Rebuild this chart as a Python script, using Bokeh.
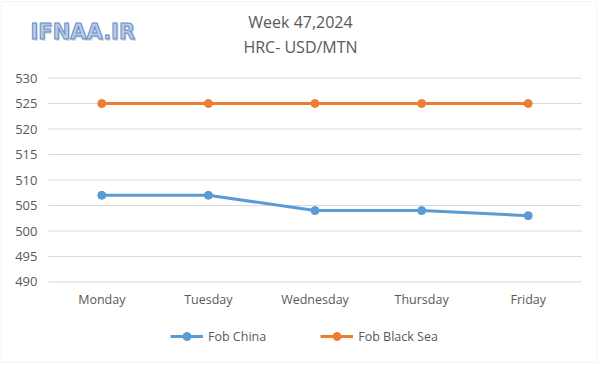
from bokeh.plotting import figure
from bokeh.models import Label, Legend, LegendItem, Range1d, BoxAnnotation
from bokeh.core.properties import value
from bokeh.embed import file_html
from bokeh.resources import INLINE

days = ["Monday", "Tuesday", "Wednesday", "Thursday", "Friday"]
fob_china = [507, 507, 504, 504, 503]
fob_black_sea = [525, 525, 525, 525, 525]
y_ticks = [490, 495, 500, 505, 510, 515, 520, 525, 530]
title_lines = ["Week 47,2024", "HRC- USD/MTN"]
watermark = "IFNAA.IR"

FONT = "Open Sans"
GRAY = "#595959"
idx = list(range(len(days)))

# The plotting frame fills the whole canvas; ranges are chosen so that the
# 490..530 band and the five day slots sit where the reference draws them.
p = figure(width=600, height=366, x_range=Range1d(-0.950, 4.678), y_range=Range1d(473.43, 545.2),
           output_backend="svg", toolbar_location=None, title=None,
           x_axis_location=None, y_axis_location=None, min_border=0)
p.outline_line_color = None
p.background_fill_color = "white"
p.xgrid.visible = False
p.ygrid.visible = False
for g in p.grid:
    g.grid_line_color = None

# horizontal grid lines at each tick, spanning the five category slots
p.segment(x0=[idx[0] - 0.5] * len(y_ticks), x1=[idx[-1] + 0.5] * len(y_ticks),
          y0=y_ticks, y1=y_ticks, line_color="#d9d9d9", line_width=1)

# y tick labels
p.text(x=[idx[0] - 0.5] * len(y_ticks), y=y_ticks, text=[str(t) for t in y_ticks],
       x_offset=-11, text_align="right", text_baseline="middle",
       text_font=value(FONT), text_font_size="13px", text_color=GRAY)
# x category labels
p.text(x=idx, y=[y_ticks[0]] * len(days), text=days, y_offset=18,
       text_align="center", text_baseline="middle",
       text_font=value(FONT), text_font_size="12.5px", text_color=GRAY)

l1 = p.line(idx, fob_china, line_color="#5B9BD5", line_width=3)
c1 = p.scatter(idx, fob_china, size=8, fill_color="#5B9BD5", line_color="#5B9BD5")
l2 = p.line(idx, fob_black_sea, line_color="#ED7D31", line_width=3)
c2 = p.scatter(idx, fob_black_sea, size=8, fill_color="#ED7D31", line_color="#ED7D31")

legend = Legend(items=[LegendItem(label="Fob China", renderers=[l1, c1]),
                       LegendItem(label="Fob Black Sea", renderers=[l2, c2])],
                orientation="horizontal", location=(170, 20),
                border_line_color=None, background_fill_alpha=0,
                glyph_width=33, glyph_height=20, label_height=20, label_standoff=5,
                spacing=54, padding=0, margin=0,
                label_text_font=FONT, label_text_font_size="12.5px", label_text_color=GRAY,
                label_text_baseline="middle")
p.add_layout(legend, "center")

for txt, y in zip(title_lines, [345, 320]):
    p.add_layout(Label(x=300, y=y, x_units="screen", y_units="screen", text=txt,
                       text_align="center", text_baseline="middle", text_font=FONT,
                       text_font_size="16px", text_color=GRAY))

p.add_layout(Label(x=31.5, y=333, x_units="screen", y_units="screen", text=watermark,
                   text_align="left", text_baseline="middle", text_font="DejaVu Sans",
                   text_font_size="21px", text_font_style="bold", text_color="#8c8c8c",
                   text_alpha=0.3))
p.add_layout(Label(x=30, y=334.5, x_units="screen", y_units="screen", text=watermark,
                   text_align="left", text_baseline="middle", text_font="DejaVu Sans",
                   text_font_size="21px", text_font_style="bold", text_color="#b3cbee",
                   text_outline_color="#6a8cc0"))

p.add_layout(BoxAnnotation(left=1, right=596, bottom=4, top=365,
                           left_units="screen", right_units="screen",
                           bottom_units="screen", top_units="screen",
                           fill_alpha=0, line_color="#d9d9d9", line_width=1))

open("out.html", "w").write(file_html(p, INLINE))
